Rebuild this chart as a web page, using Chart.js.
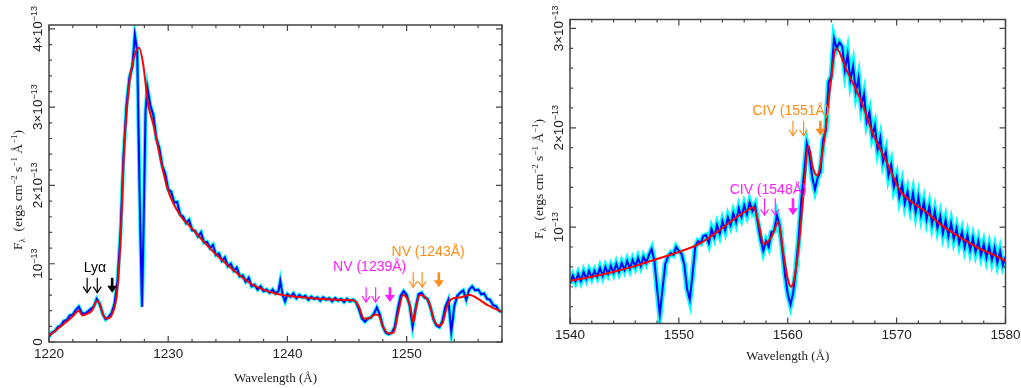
<!DOCTYPE html>
<html>
<head>
<meta charset="utf-8">
<script src="https://cdn.jsdelivr.net/npm/chart.js@4.4.1/dist/chart.umd.min.js"></script>
<style>
  body { margin: 0; background: #fff; }
  #wrap { position: relative; width: 1021px; height: 388px; }
  canvas { position: absolute; top: 0; }
</style>
</head>
<body>
<div id="wrap">
  <canvas id="lya" width="510" height="388" style="left:0"></canvas>
  <canvas id="civ" width="511" height="388" style="left:510px"></canvas>
</div>
<script>
// Flux values are in units of 1e-13 ergs cm^-2 s^-1 A^-1

// Panel 1: Ly-alpha / NV region
const lyaWave = [
  1220.00,1220.25,1220.50,1220.75,1221.00,1221.25,1221.50,1221.75,1222.00,1222.25,
  1222.50,1222.75,1223.00,1223.25,1223.50,1223.75,1224.00,1224.25,1224.50,1224.75,
  1225.00,1225.25,1225.50,1225.75,1226.00,1226.25,1226.50,1226.75,1227.00,1227.20,
  1227.40,1227.60,1227.80,1227.95,1228.10,1228.25,1228.50,1228.75,1229.00,1229.25,
  1229.50,1229.75,1230.00,1230.25,1230.50,1230.75,1231.00,1231.25,1231.50,1231.75,
  1232.00,1232.25,1232.50,1232.75,1233.00,1233.25,1233.50,1233.75,1234.00,1234.25,
  1234.50,1234.75,1235.00,1235.25,1235.50,1235.75,1236.00,1236.25,1236.50,1236.75,
  1237.00,1237.25,1237.50,1237.75,1238.00,1238.25,1238.50,1238.75,1239.00,1239.25,
  1239.40,1239.60,1239.80,1240.00,1240.25,1240.50,1240.75,1241.00,1241.25,1241.50,
  1241.75,1242.00,1242.25,1242.50,1242.75,1243.00,1243.25,1243.50,1243.75,1244.00,
  1244.25,1244.50,1244.75,1245.00,1245.25,1245.50,1245.75,1246.00,1246.25,1246.50,
  1246.75,1247.00,1247.25,1247.50,1247.75,1248.00,1248.25,1248.50,1248.75,1249.00,
  1249.25,1249.50,1249.75,1250.00,1250.25,1250.50,1250.75,1251.00,1251.25,1251.50,
  1251.75,1252.00,1252.25,1252.50,1252.75,1253.00,1253.25,1253.50,1253.75,1254.00,
  1254.25,1254.50,1254.75,1255.00,1255.25,1255.50,1255.75,1256.00,1256.25,1256.50,
  1256.75,1257.00,1257.25,1257.50,1257.75,1258.00
];
const lyaFlux = [
  0.07,0.12,0.14,0.19,0.21,0.27,0.28,0.34,0.35,0.41,
  0.45,0.37,0.36,0.39,0.42,0.45,0.55,0.49,0.36,0.29,
  0.32,0.37,0.49,0.78,1.40,2.38,3.02,3.38,3.52,3.92,
  3.72,1.90,0.45,1.60,2.95,3.25,3.02,2.90,2.60,2.48,
  2.25,2.15,1.95,1.92,1.78,1.79,1.63,1.60,1.52,1.56,
  1.43,1.42,1.35,1.40,1.27,1.28,1.20,1.24,1.11,1.13,
  1.04,1.08,0.97,1.00,0.91,0.95,0.84,0.85,0.77,0.82,
  0.71,0.73,0.67,0.71,0.65,0.67,0.63,0.67,0.62,0.65,
  0.78,0.60,0.52,0.61,0.58,0.62,0.56,0.60,0.57,0.59,
  0.54,0.58,0.55,0.57,0.53,0.57,0.54,0.56,0.52,0.56,
  0.53,0.55,0.51,0.55,0.52,0.54,0.51,0.42,0.30,0.26,
  0.30,0.31,0.36,0.44,0.35,0.20,0.12,0.10,0.12,0.19,
  0.41,0.59,0.65,0.60,0.47,0.20,0.43,0.61,0.63,0.57,
  0.55,0.44,0.29,0.21,0.19,0.27,0.45,0.54,0.13,0.46,
  0.59,0.63,0.66,0.54,0.67,0.71,0.66,0.67,0.61,0.62,
  0.55,0.54,0.47,0.46,0.40,0.39
];
const lyaModelWave = [
  1220.0,1221.0,1222.0,1222.5,1222.8,1223.2,1223.6,1224.0,1224.2,1224.6,
  1224.9,1225.3,1225.7,1226.0,1226.3,1226.7,1227.1,1227.55,1227.9,1228.3,
  1228.8,1229.4,1230.0,1231.0,1232.0,1233.0,1234.0,1235.0,1236.0,1237.0,
  1238.0,1239.0,1240.0,1242.0,1244.0,1245.6,1246.0,1246.4,1246.8,1247.4,
  1247.7,1248.0,1248.5,1248.9,1249.3,1249.7,1250.0,1250.3,1250.55,1250.8,
  1251.1,1251.5,1251.9,1252.3,1252.7,1253.0,1253.4,1253.8,1254.5,1255.3,
  1256.0,1256.8,1257.5,1258.0
];
const lyaModelFlux = [
  0.08,0.20,0.33,0.40,0.34,0.36,0.40,0.52,0.50,0.33,
  0.30,0.36,0.62,1.30,2.45,3.25,3.62,3.76,3.55,3.05,
  2.75,2.30,1.93,1.62,1.45,1.28,1.12,0.98,0.85,0.74,
  0.67,0.62,0.59,0.56,0.54,0.53,0.45,0.30,0.30,0.35,
  0.33,0.20,0.11,0.12,0.38,0.60,0.57,0.45,0.25,0.45,
  0.60,0.58,0.50,0.28,0.21,0.24,0.46,0.55,0.57,0.60,
  0.55,0.47,0.42,0.38
];
const lyaArrowWave = [1223.2, 1224.05, 1225.3];
const nv1239ArrowWave = [1246.6, 1247.4, 1248.6];
const nv1243ArrowWave = [1250.55, 1251.3, 1252.7];

// Panel 2: CIV region
const civWave = [
  1540.00,1540.25,1540.50,1540.75,1541.00,1541.25,1541.50,1541.75,1542.00,1542.25,
  1542.50,1542.75,1543.00,1543.25,1543.50,1543.75,1544.00,1544.25,1544.50,1544.75,
  1545.00,1545.25,1545.50,1545.75,1546.00,1546.25,1546.50,1546.75,1547.00,1547.25,
  1547.50,1547.75,1548.00,1548.25,1548.50,1548.75,1549.00,1549.25,1549.50,1549.75,
  1550.00,1550.25,1550.50,1550.75,1551.00,1551.25,1551.50,1551.75,1552.00,1552.25,
  1552.50,1552.75,1553.00,1553.25,1553.50,1553.75,1554.00,1554.25,1554.50,1554.75,
  1555.00,1555.25,1555.50,1555.75,1556.00,1556.25,1556.50,1556.75,1557.00,1557.25,
  1557.50,1557.75,1558.00,1558.25,1558.50,1558.75,1559.00,1559.25,1559.50,1559.75,
  1560.00,1560.25,1560.50,1560.75,1561.00,1561.25,1561.50,1561.75,1562.00,1562.25,
  1562.50,1562.75,1563.00,1563.25,1563.50,1563.75,1564.00,1564.25,1564.50,1564.75,
  1565.00,1565.25,1565.50,1565.75,1566.00,1566.25,1566.50,1566.75,1567.00,1567.25,
  1567.50,1567.75,1568.00,1568.25,1568.50,1568.75,1569.00,1569.25,1569.50,1569.75,
  1570.00,1570.25,1570.50,1570.75,1571.00,1571.25,1571.50,1571.75,1572.00,1572.25,
  1572.50,1572.75,1573.00,1573.25,1573.50,1573.75,1574.00,1574.25,1574.50,1574.75,
  1575.00,1575.25,1575.50,1575.75,1576.00,1576.25,1576.50,1576.75,1577.00,1577.25,
  1577.50,1577.75,1578.00,1578.25,1578.50,1578.75,1579.00,1579.25,1579.50,1579.75,
  1580.00
];
const civFlux = [
  0.43,0.51,0.45,0.53,0.46,0.55,0.48,0.56,0.49,0.56,
  0.50,0.59,0.51,0.60,0.53,0.61,0.54,0.63,0.55,0.64,
  0.57,0.66,0.58,0.67,0.60,0.69,0.61,0.70,0.64,0.72,
  0.78,0.66,0.38,0.12,0.38,0.63,0.70,0.74,0.72,0.80,
  0.76,0.73,0.62,0.38,0.27,0.52,0.80,0.86,0.84,0.91,
  0.92,0.84,0.98,0.90,1.02,0.93,1.06,0.97,1.10,1.02,
  1.14,1.05,1.19,1.10,1.22,1.13,1.25,1.16,1.22,1.04,
  0.88,0.76,0.86,0.80,0.95,0.96,1.12,1.02,0.78,0.52,
  0.33,0.22,0.34,0.58,0.88,1.28,1.55,1.84,1.72,1.50,
  1.38,1.50,1.56,1.88,1.98,2.46,2.52,2.90,2.80,2.86,
  2.82,2.58,2.74,2.48,2.62,2.36,2.50,2.22,2.34,2.06,
  2.16,1.92,2.02,1.78,1.90,1.66,1.76,1.52,1.63,1.40,
  1.50,1.30,1.43,1.24,1.36,1.20,1.34,1.15,1.30,1.12,
  1.25,1.08,1.21,1.03,1.16,0.99,1.11,0.94,1.07,0.91,
  1.04,0.88,0.99,0.84,0.95,0.80,0.92,0.77,0.89,0.75,
  0.86,0.72,0.83,0.69,0.81,0.67,0.79,0.64,0.76,0.62,
  0.70
];
const civModelWave = [
  1540.0,1542.0,1544.0,1546.0,1548.0,1550.0,1552.0,1553.5,1555.3,1556.3,
  1556.85,1557.3,1557.8,1558.5,1559.15,1559.6,1560.0,1560.3,1560.6,1561.0,
  1561.45,1561.9,1562.3,1562.7,1563.3,1563.9,1564.45,1565.4,1566.7,1567.9,
  1569.15,1570.3,1571.3,1572.75,1574.0,1575.8,1577.5,1578.9,1580.0
];
const civModelFlux = [
  0.46,0.50,0.55,0.61,0.68,0.75,0.84,0.95,1.10,1.17,
  1.20,1.05,0.83,0.90,1.05,0.73,0.48,0.40,0.48,0.80,
  1.34,1.82,1.60,1.52,1.84,2.41,2.80,2.58,2.28,1.92,
  1.64,1.37,1.26,1.15,1.03,0.90,0.79,0.72,0.66
];
const civ1548ArrowWave = [1557.87, 1558.85, 1560.48];
const civ1551ArrowWave = [1560.48, 1561.45, 1563.0];

const SANS = '"Liberation Sans", Arial, Helvetica, sans-serif';
const SERIF = '"Liberation Serif", "Times New Roman", serif';
const MAGENTA = '#ff1fff';
const ORANGE = '#ff8c1a';

const pts = (xs, ys) => xs.map((x, i) => ({ x, y: ys[i] }));

// draws text rotated -90deg, made of parts (normal / super / subscript)
function drawRotated(ctx, parts, baseX, centerY, family, color) {
  ctx.save();
  ctx.translate(baseX, centerY);
  ctx.rotate(-Math.PI / 2);
  ctx.fillStyle = color;
  ctx.textAlign = 'left';
  ctx.textBaseline = 'alphabetic';
  let total = 0;
  parts.forEach(p => { ctx.font = p.s + 'px ' + family; p.w = ctx.measureText(p.t).width; total += p.w; });
  let pos = -total / 2;
  parts.forEach(p => { ctx.font = p.s + 'px ' + family; ctx.fillText(p.t, pos, p.dy || 0); pos += p.w; });
  ctx.restore();
}

function drawArrow(ctx, x, y0, y1, color, bold) {
  ctx.strokeStyle = color;
  ctx.fillStyle = color;
  ctx.lineWidth = bold ? 2.6 : 1.2;
  ctx.beginPath();
  ctx.moveTo(x, y0);
  ctx.lineTo(x, bold ? y1 - 4 : y1);
  ctx.stroke();
  if (bold) {
    ctx.beginPath();
    ctx.moveTo(x - 5, y1 - 7);
    ctx.lineTo(x + 5, y1 - 7);
    ctx.lineTo(x, y1);
    ctx.closePath();
    ctx.fill();
  } else {
    ctx.beginPath();
    ctx.moveTo(x - 4, y1 - 6);
    ctx.lineTo(x, y1);
    ctx.lineTo(x + 4, y1 - 6);
    ctx.stroke();
  }
}

function inwardTicks(ctx, scale, area, minorStep, horizontal) {
  const majors = scale.ticks.map(t => t.value);
  const k0 = Math.ceil(scale.min / minorStep - 1e-6);
  const k1 = Math.floor(scale.max / minorStep + 1e-6);
  ctx.beginPath();
  for (let k = k0; k <= k1; k++) {
    const v = k * minorStep;
    const len = majors.some(m => Math.abs(m - v) < 1e-6) ? 6 : 3;
    const p = scale.getPixelForValue(v);
    if (horizontal) {
      ctx.moveTo(p, area.bottom); ctx.lineTo(p, area.bottom - len);
      ctx.moveTo(p, area.top); ctx.lineTo(p, area.top + len);
    } else {
      ctx.moveTo(area.left, p); ctx.lineTo(area.left + len, p);
      ctx.moveTo(area.right, p); ctx.lineTo(area.right - len, p);
    }
  }
  ctx.stroke();
}

const framePlugin = {
  id: 'frame',
  afterDraw(chart, args, opts) {
    const { ctx, chartArea: a, scales: { x, y } } = chart;
    ctx.save();
    // annotations: line labels + arrows
    opts.notes.forEach(n => {
      ctx.font = '14px ' + SANS;
      ctx.fillStyle = n.color;
      ctx.textAlign = 'center';
      ctx.textBaseline = 'middle';
      if (n.text) ctx.fillText(n.text, x.getPixelForValue(n.x), y.getPixelForValue(n.y));
      const y0 = y.getPixelForValue(n.top), y1 = y.getPixelForValue(n.bottom);
      n.arrows.forEach((w, i) => drawArrow(ctx, x.getPixelForValue(w), y0, y1, n.color, i === n.arrows.length - 1));
    });
    // frame and inward ticks
    ctx.strokeStyle = '#444';
    ctx.lineWidth = 1.5;
    ctx.strokeRect(a.left, a.top, a.right - a.left, a.bottom - a.top);
    ctx.lineWidth = 1.2;
    inwardTicks(ctx, x, a, 2, true);
    inwardTicks(ctx, y, a, 0.2, false);
    // rotated y tick labels
    y.ticks.forEach(t => {
      const v = t.value;
      const parts = [{ t: v === 0 ? '0' : (v === 1 ? '10' : v + '×10'), s: 13.5 }];
      if (v !== 0) parts.push({ t: '−13', s: 9, dy: -5.5 });
      drawRotated(ctx, parts, opts.tickBase, y.getPixelForValue(v), SANS, '#222');
    });
    // y axis title
    drawRotated(ctx, [
      { t: 'F', s: 13.5 }, { t: 'λ', s: 9, dy: 3 }, { t: '  (ergs cm', s: 13.5 },
      { t: '−2', s: 9, dy: -5 }, { t: ' s', s: 13.5 }, { t: '−1', s: 9, dy: -5 },
      { t: ' Å', s: 13.5 }, { t: '−1', s: 9, dy: -5 }, { t: ')', s: 13.5 }
    ], opts.titleBase, opts.titleCenter, SERIF, '#222');
    ctx.restore();
  }
};

function makeChart(id, c) {
  return new Chart(document.getElementById(id), {
    type: 'line',
    data: {
      datasets: [
        { label: 'model', data: pts(c.modelWave, c.modelFlux), borderColor: '#ff0000', borderWidth: 2,
          pointRadius: 0, cubicInterpolationMode: 'monotone', clip: 0 },
        { label: 'data', data: pts(c.wave, c.flux), borderColor: '#0000ff', borderWidth: 2,
          pointRadius: 0, clip: 0 },
        { label: 'error', data: pts(c.wave, c.flux), borderColor: '#00ffff', borderWidth: c.errWidth,
          pointRadius: 0, clip: 0 }
      ]
    },
    options: {
      responsive: false,
      animation: false,
      events: [],
      layout: { padding: c.padding },
      plugins: {
        legend: { display: false },
        tooltip: { enabled: false },
        frame: c.frame
      },
      scales: {
        x: {
          type: 'linear', min: c.xMin, max: c.xMax,
          grid: { display: false, drawTicks: false },
          border: { display: false },
          ticks: { stepSize: 10, includeBounds: false, autoSkip: false, maxRotation: 0, padding: 4,
                   color: '#222', font: { family: SANS, size: 13.5 }, callback: v => String(v) },
          title: { display: true, text: 'Wavelength (Å)', color: '#222',
                   font: { family: SERIF, size: 13 }, padding: { top: 0, bottom: c.titlePad } },
          afterFit: s => { s.height = c.xAxisH; s.paddingLeft = 0; s.paddingRight = 0; }
        },
        y: {
          type: 'linear', min: c.yMin, max: c.yMax,
          grid: { display: false, drawTicks: false },
          border: { display: false },
          ticks: { display: false, stepSize: 1, includeBounds: false },
          afterFit: s => { s.width = c.yAxisW; }
        }
      }
    },
    plugins: [framePlugin]
  });
}

makeChart('lya', {
  wave: lyaWave, flux: lyaFlux, modelWave: lyaModelWave, modelFlux: lyaModelFlux,
  xMin: 1220, xMax: 1258, yMin: 0, yMax: 4.05, errWidth: 4,
  padding: { left: 0, top: 25, right: 8, bottom: 0 }, yAxisW: 49, xAxisH: 46, titlePad: 2,
  frame: {
    tickBase: 42, titleBase: 22, titleCenter: 190,
    notes: [
      { text: 'Lyα', color: '#000', x: 1223.85, y: 0.95, top: 0.82, bottom: 0.63, arrows: lyaArrowWave },
      { text: 'NV (1239Å)', color: MAGENTA, x: 1246.9, y: 0.96, top: 0.70, bottom: 0.51, arrows: nv1239ArrowWave },
      { text: 'NV (1243Å)', color: ORANGE, x: 1251.8, y: 1.15, top: 0.89, bottom: 0.70, arrows: nv1243ArrowWave }
    ]
  }
});

makeChart('civ', {
  wave: civWave, flux: civFlux, modelWave: civModelWave, modelFlux: civModelFlux,
  xMin: 1540, xMax: 1580, yMin: 0.03, yMax: 3.09, errWidth: 5.5,
  padding: { left: 0, top: 19.5, right: 15.5, bottom: 0 }, yAxisW: 60, xAxisH: 64.5, titlePad: 23.5,
  frame: {
    tickBase: 53, titleBase: 33, titleCenter: 179,
    notes: [
      { text: 'CIV (1548Å)', color: MAGENTA, x: 1558.2, y: 1.37, top: 1.29, bottom: 1.12, arrows: civ1548ArrowWave },
      { text: 'CIV (1551Å)', color: ORANGE, x: 1560.3, y: 2.17, top: 2.07, bottom: 1.92, arrows: civ1551ArrowWave }
    ]
  }
});
</script>
</body>
</html>
